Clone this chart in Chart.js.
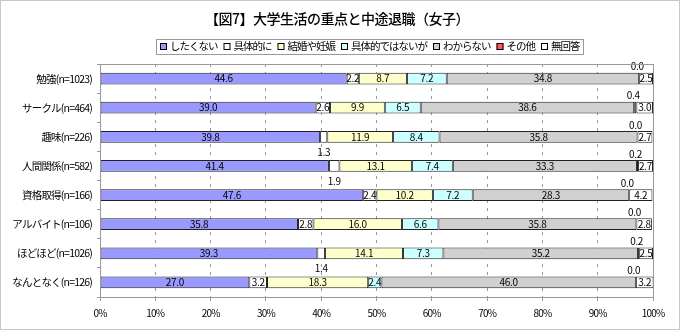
<!DOCTYPE html>
<html lang="ja">
<head>
<meta charset="UTF-8">
<title>【図7】大学生活の重点と中途退職（女子）</title>
<script src="https://cdn.jsdelivr.net/npm/chart.js@4"></script>
<style>
  html, body { margin: 0; padding: 0; background: #fff; }
  #wrap { width: 680px; height: 330px; }
</style>
</head>
<body>
<div id="wrap"><canvas id="chart" width="680" height="330"></canvas></div>
<script>
// 分類（縦軸）
const categories = [
    '勉強(n=1023)', 'サークル(n=464)', '趣味(n=226)', '人間関係(n=582)',
    '資格取得(n=166)', 'アルバイト(n=106)', 'ほどほど(n=1026)', 'なんとなく(n=126)'
];

// 系列名
const seriesNames = ['したくない', '具体的に', '結婚や妊娠', '具体的ではないが', 'わからない', 'その他', '無回答'];

// 系列ごとの値（%）
const shitakunai     = [44.6, 39.0, 39.8, 41.4, 47.6, 35.8, 39.3, 27.0];
const gutaiteki      = [2.2, 2.6, 1.3, 1.9, 2.4, 2.8, 1.4, 3.2];
const kekkon         = [8.7, 9.9, 11.9, 13.1, 10.2, 16.0, 14.1, 18.3];
const gutaitekiDenai = [7.2, 6.5, 8.4, 7.4, 7.2, 6.6, 7.3, 2.4];
const wakaranai      = [34.8, 38.6, 35.8, 33.3, 28.3, 35.8, 35.2, 46.0];
const sonota         = [0.0, 0.4, 0.0, 0.2, 0.0, 0.0, 0.2, 0.0];
const mukaito        = [2.5, 3.0, 2.7, 2.7, 4.2, 2.8, 2.5, 3.2];

// 横軸の目盛り
const xTicks = [0, 10, 20, 30, 40, 50, 60, 70, 80, 90, 100];

const seriesValues = [shitakunai, gutaiteki, kekkon, gutaitekiDenai, wakaranai, sonota, mukaito];
const seriesColors = ['#9999ff', '#ffffff', '#ffffcc', '#ccffff', '#d0d0d0', '#ff5a5a', '#ffffff'];

const FONT = "'Noto Sans CJK JP', 'Noto Sans', sans-serif";

// 軸ラベルを詰めて描く（元図のプロポーショナル書体に近づける）
const tightText = {
    id: 'tightText',
    beforeDraw(chart) { chart.ctx.letterSpacing = '-0.8px'; },
    beforeDatasetsDraw(chart) { chart.ctx.letterSpacing = '0px'; }
};

// 数値ラベル
const valueLabels = {
    id: 'valueLabels',
    afterDatasetsDraw(chart) {
        const ctx = chart.ctx;
        ctx.save();
        ctx.font = '10px ' + FONT;
        ctx.letterSpacing = '-0.3px';
        ctx.fillStyle = '#000';
        ctx.textAlign = 'center';
        ctx.textBaseline = 'middle';
        chart.data.datasets.forEach((ds, di) => {
            chart.getDatasetMeta(di).data.forEach((bar, i) => {
                const v = ds.data[i];
                const p = bar.getProps(['x', 'y', 'base'], true);
                let x = (p.x + p.base) / 2;
                let y = p.y;
                if (di === 5) {          // その他は棒の上
                    x -= 2;
                    y -= 12;
                } else if (di === 1 && v < 2) {  // 小さい値は棒の下
                    y += 15;
                }
                ctx.fillText(v.toFixed(1), x, y);
            });
        });
        ctx.restore();
    }
};

// タイトル・凡例・枠線
const frame = {
    id: 'frame',
    afterDraw(chart) {
        const ctx = chart.ctx;
        const a = chart.chartArea;
        ctx.save();

        // 外枠
        ctx.strokeStyle = '#c8c8c8';
        ctx.lineWidth = 1;
        ctx.strokeRect(0.5, 0.5, chart.width - 1, chart.height - 1);

        // プロットエリア枠
        ctx.strokeStyle = '#999';
        ctx.strokeRect(Math.round(a.left) + 0.5, Math.round(a.top) + 0.5,
            Math.round(a.right - a.left), Math.round(a.bottom - a.top));

        // タイトル
        ctx.fillStyle = '#000';
        ctx.letterSpacing = '-0.5px';
        ctx.font = '500 14px ' + FONT;
        ctx.textAlign = 'center';
        ctx.textBaseline = 'middle';
        ctx.fillText('【図7】大学生活の重点と中途退職（女子）', 337, 19);

        // 凡例
        ctx.font = '10.5px ' + FONT;
        ctx.letterSpacing = '-1px';
        ctx.textAlign = 'left';
        const box = 7, gap = 3, space = 6;
        const widths = seriesNames.map(n => box + gap + ctx.measureText(n).width);
        const total = widths.reduce((s, w) => s + w, 0) + space * (seriesNames.length - 1);
        const pad = 4;
        let x = Math.round(370 - total / 2);
        const cy = 46.5;
        ctx.strokeStyle = '#999';
        ctx.strokeRect(x - pad + 0.5, 39.5, Math.round(total + pad * 2), 15);
        seriesNames.forEach((n, i) => {
            ctx.fillStyle = seriesColors[i];
            ctx.fillRect(x, cy - 3.5, box, box);
            ctx.strokeStyle = '#000';
            ctx.strokeRect(x + 0.5, cy - 3.5 + 0.5, box - 1, box - 1);
            ctx.fillStyle = '#000';
            ctx.fillText(n, x + box + gap, cy);
            x += widths[i] + space;
        });
        ctx.restore();
    }
};

const datasets = seriesNames.map((name, i) => ({
    label: name,
    data: seriesValues[i],
    backgroundColor: seriesColors[i],
    borderColor: '#222',
    borderWidth: 1,
    borderSkipped: false,
    categoryPercentage: 1,
    barPercentage: 0.4
}));

new Chart(document.getElementById('chart'), {
    type: 'bar',
    data: { labels: categories, datasets },
    options: {
        indexAxis: 'y',
        responsive: false,
        animation: false,
        devicePixelRatio: 1,
        layout: { padding: { top: 64, right: 27, bottom: 0, left: 0 } },
        plugins: {
            legend: { display: false },
            title: { display: false },
            tooltip: { enabled: false }
        },
        scales: {
            x: {
                stacked: true,
                min: 0,
                max: 100,
                afterBuildTicks: s => { s.ticks = xTicks.map(v => ({ value: v })); },
                afterFit: s => { s.height = 33; },
                ticks: {
                    font: { size: 10, family: FONT },
                    color: '#000',
                    padding: 6,
                    callback: v => v + '%'
                },
                grid: {
                    color: '#999',
                    tickLength: 4,
                    tickBorderDash: [],
                    drawOnChartArea: true
                },
                border: { display: false, dash: [3, 5] }
            },
            y: {
                stacked: true,
                afterFit: s => { s.width = 100; },
                ticks: {
                    font: { size: 10.5, family: FONT },
                    color: '#000',
                    padding: 5
                },
                grid: {
                    offset: true,
                    drawOnChartArea: false,
                    color: '#999',
                    tickLength: 3
                },
                border: { display: false }
            }
        }
    },
    plugins: [tightText, valueLabels, frame]
});
</script>
</body>
</html>
